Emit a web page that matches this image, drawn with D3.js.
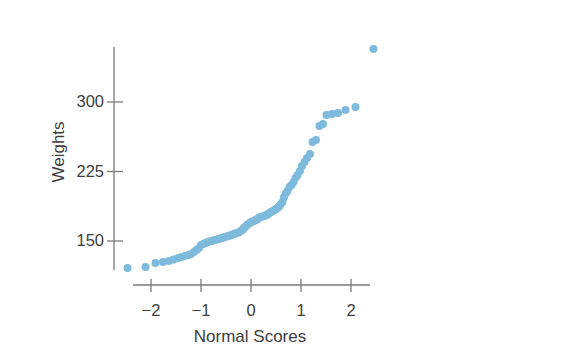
<!DOCTYPE html>
<html>
<head>
<meta charset="utf-8">
<script src="https://cdn.jsdelivr.net/npm/d3@7"></script>
<style>
  html, body { margin: 0; padding: 0; background: #fff; }
  svg { display: block; }
  text { font-family: "Liberation Sans", Arial, sans-serif; fill: #3d3d3d; }
</style>
</head>
<body>
<svg id="chart" width="563" height="355"></svg>
<script>
// Normal scores (x)
const normalScores = [
  -2.46, -2.10, -1.90, -1.75, -1.63, -1.54, -1.45, -1.38, -1.31, -1.24,
  -1.19, -1.13, -1.08, -1.03, -0.99, -0.94, -0.90, -0.86, -0.82, -0.78,
  -0.74, -0.71, -0.67, -0.64, -0.60, -0.57, -0.54, -0.51, -0.48, -0.45,
  -0.41, -0.38, -0.35, -0.33, -0.30, -0.27, -0.24, -0.21, -0.18, -0.15,
  -0.13, -0.10, -0.07, -0.04, -0.01, 0.01, 0.04, 0.07, 0.10, 0.13,
  0.15, 0.18, 0.21, 0.24, 0.27, 0.30, 0.33, 0.35, 0.38, 0.41,
  0.45, 0.48, 0.51, 0.54, 0.57, 0.60, 0.64, 0.67, 0.71, 0.74,
  0.78, 0.82, 0.86, 0.90, 0.94, 0.99, 1.03, 1.08, 1.13, 1.19,
  1.24, 1.31, 1.38, 1.45, 1.52, 1.63, 1.75, 1.90, 2.10, 2.46
];
// Weights (y)
const weights = [
  120.3, 121.4, 125.7, 126.8, 127.9, 129.5, 131.1, 132.2, 133.3, 134.4,
  135.4, 137.6, 139.7, 141.9, 145.1, 146.2, 147.3, 148.4, 148.9, 149.5,
  150.0, 150.5, 151.1, 151.6, 152.2, 152.7, 153.2, 153.8, 154.3, 154.9,
  155.4, 155.9, 156.5, 157.0, 157.6, 158.1, 158.6, 159.7, 160.8, 161.9,
  163.5, 165.1, 166.7, 167.8, 168.9, 170.0, 170.5, 171.0, 172.1, 172.7,
  173.7, 174.8, 175.4, 175.9, 176.4, 177.0, 177.5, 178.6, 179.7, 180.8,
  181.8, 182.9, 184.0, 185.1, 186.7, 188.8, 191.5, 196.9, 201.3, 203.4,
  207.7, 209.9, 213.1, 217.4, 220.7, 225.0, 230.4, 234.7, 239.0, 243.3,
  256.3, 258.4, 273.5, 275.7, 285.4, 286.5, 287.6, 290.8, 294.1, 356.6
];
const xTicks = [-2, -1, 0, 1, 2];
const yTicks = [150, 225, 300];
const xTitle = "Normal Scores";
const yTitle = "Weights";

const svg = d3.select("#chart");

const x = d3.scaleLinear().domain([-2.35, 2.39]).range([133, 370]);
const y = d3.scaleLinear().domain([118.2, 358.8]).range([270, 47]);

const axisColor = "#7a7a7a";
const textColor = "#3a3a3a";

// X axis
const gx = svg.append("g")
  .attr("transform", "translate(0,285)")
  .call(d3.axisBottom(x).tickValues(xTicks).tickSize(7).tickPadding(12)
        .tickFormat(d3.format("d")));
gx.select(".domain").attr("stroke", axisColor).attr("stroke-width", 1.3)
  .attr("d", `M${x.range()[0]},0H${x.range()[1]}`);
gx.selectAll(".tick line").attr("stroke", axisColor).attr("stroke-width", 1.3)
  .attr("y1", -6).attr("y2", 7);
gx.selectAll(".tick text").attr("font-size", 16.5)
  .attr("font-family", "Liberation Sans, Arial, sans-serif").attr("fill", textColor);

// Y axis
const gy = svg.append("g")
  .attr("transform", "translate(114,0)")
  .call(d3.axisLeft(y).tickValues(yTicks).tickSize(7).tickPadding(3));
gy.select(".domain").attr("stroke", axisColor).attr("stroke-width", 1.3)
  .attr("d", `M0,${y.range()[1]}V${y.range()[0]}`);
gy.selectAll(".tick line").attr("stroke", axisColor).attr("stroke-width", 1.3)
  .attr("x1", -7).attr("x2", 9);
gy.selectAll(".tick text").attr("font-size", 16.5)
  .attr("font-family", "Liberation Sans, Arial, sans-serif").attr("fill", textColor);

// Titles
svg.append("text")
  .attr("x", 250).attr("y", 342)
  .attr("text-anchor", "middle")
  .attr("font-size", 17)
  .attr("fill", textColor)
  .text(xTitle);

svg.append("text")
  .attr("transform", "translate(64,152) rotate(-90)")
  .attr("text-anchor", "middle")
  .attr("font-size", 17)
  .attr("fill", textColor)
  .text(yTitle);

// Points
const data = normalScores.map((d, i) => ({ x: d, y: weights[i] }));
svg.append("g")
  .selectAll("circle")
  .data(data)
  .join("circle")
  .attr("cx", d => x(d.x))
  .attr("cy", d => y(d.y))
  .attr("r", 4)
  .attr("fill", "#7ebadb");
</script>
</body>
</html>
